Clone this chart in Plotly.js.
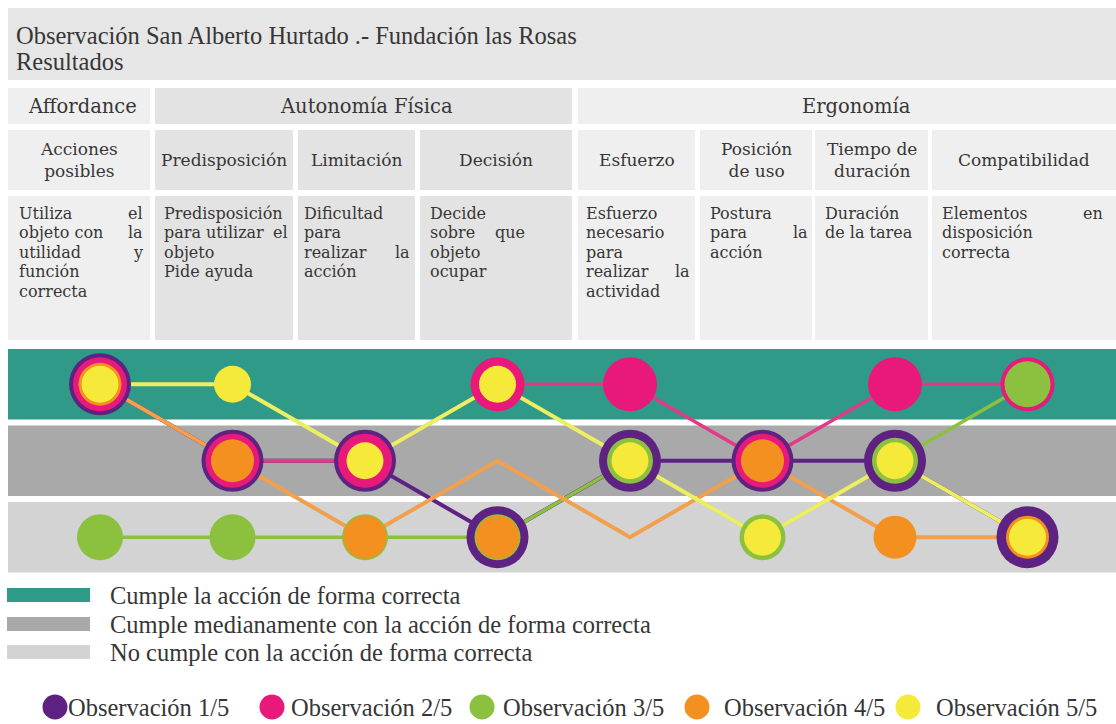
<!DOCTYPE html>
<html>
<head>
<meta charset="utf-8">
<script src="https://cdn.plot.ly/plotly-3.0.1.min.js"></script>
<style>
  html, body { margin: 0; padding: 0; background: #fff; }
  #chart { width: 1116px; height: 724px; }
</style>
</head>
<body>
<div id="chart"></div>
<script>
/* ── Data ───────────────────────────────────────────────── */
const criterios = ['Acciones posibles', 'Predisposición', 'Limitación', 'Decisión',
                   'Esfuerzo', 'Posición de uso', 'Tiempo de duración', 'Compatibilidad'];

// level: 3 = cumple, 2 = cumple medianamente, 1 = no cumple
const obs1 = [3, 2, 2, 1, 2, 2, 2, 1];
const obs2 = [3, 2, 2, 3, 3, 2, 3, 3];
const obs3 = [1, 1, 1, 1, 2, 1, 2, 3];
const obs4 = [3, 2, 1, 2, 1, 2, 1, 1];            // path of the line
const obs4Marcas = [3, 2, 1, 1, null, 2, 1, 1];   // circles actually drawn
const obs5 = [3, 3, 2, 3, 2, 1, 2, 1];

const titulo = ['Observación San Alberto Hurtado .- Fundación las Rosas', 'Resultados'];
const grupos = ['Affordance', 'Autonomía Física', 'Ergonomía'];
const subtitulos = ['Acciones<br>posibles', 'Predisposición', 'Limitación', 'Decisión',
                    'Esfuerzo', 'Posición<br>de uso', 'Tiempo de<br>duración', 'Compatibilidad'];
const descripciones = [
  ['Utiliza el', 'objeto con la', 'utilidad y', 'función', 'correcta'],
  ['Predisposición', 'para utilizar el', 'objeto', 'Pide ayuda'],
  ['Dificultad', 'para', 'realizar la', 'acción'],
  ['Decide', 'sobre que', 'objeto', 'ocupar'],
  ['Esfuerzo', 'necesario', 'para', 'realizar la', 'actividad'],
  ['Postura', 'para la', 'acción'],
  ['Duración', 'de la tarea'],
  ['Elementos en', 'disposición', 'correcta'],
];
const niveles = [3, 2, 1];
const nivelesTexto = ['Cumple la acción de forma correcta',
                      'Cumple medianamente con la acción de forma correcta',
                      'No cumple con la acción de forma correcta'];

/* ── Layout constants (pixels) ─────────────────────────── */
const W = 1116, H = 724;
const PLOT_TOP = 346, PLOT_BOT = 577;
const px = x => x / W;
const py = y => (PLOT_BOT - y) / (PLOT_BOT - PLOT_TOP);

const SERIF = 'Liberation Serif, Times New Roman, serif';
const SLAB  = 'DejaVu Serif, serif';
const INK   = '#363636';

const LIGHT = '#f0efef', DARK = '#e4e3e3';
const BAND_COLORS = { 3: '#2f9a88', 2: '#a9a9a9', 1: '#d3d3d3' };

const GROUP_CELLS = [[8, 150, LIGHT], [155, 572, DARK], [578, 1116, LIGHT]];
const GROUP_TEXT_X = [82, 366, 856];
const COLS = [[8, 150], [155, 293], [298, 415], [420, 572], [578, 695], [700, 812], [815, 928], [932, 1116]];
const COL_FILL = [LIGHT, DARK, DARK, DARK, LIGHT, LIGHT, LIGHT, LIGHT];
const DESC_BOX = [[17, 145], [162, 290], [302, 412], [428, 527], [584, 692], [708, 810], [823, 925], [940, 1105]];

const SERIES = [
  { name: 'Observación 1/5', y: obs1, marks: obs1,       color: '#5e2382', line: '#5e2382', size: 62, width: 4 },
  { name: 'Observación 2/5', y: obs2, marks: obs2,       color: '#e8197b', line: '#e33a88', size: 54, width: 3.5 },
  { name: 'Observación 3/5', y: obs3, marks: obs3,       color: '#8cc140', line: '#8cc140', size: 46, width: 3.5 },
  { name: 'Observación 4/5', y: obs4, marks: obs4Marcas, color: '#f39020', line: '#f2a04c', size: 43, width: 4 },
  { name: 'Observación 5/5', y: obs5, marks: obs5,       color: '#f5e93a', line: '#ecef62', size: 37, width: 4 },
];
const LEGEND_CX = [55, 272, 482, 697, 908];
const LEGEND_TX = [66, 289, 501, 722, 934];
const BAND_LEGEND_Y = [595, 624, 652];

/* ── Helpers ───────────────────────────────────────────── */
function rect(x0, y0, x1, y1, fill) {
  return { type: 'rect', xref: 'paper', yref: 'paper', layer: 'below',
           x0: px(x0), x1: px(x1), y0: py(y1), y1: py(y0),
           fillcolor: fill, line: { width: 0 } };
}
function txt(x, y, text, o = {}) {
  return { xref: 'paper', yref: 'paper', x: px(x), y: py(y), text, showarrow: false,
           xanchor: o.xanchor || 'left', yanchor: o.yanchor || 'middle', align: o.align || 'left',
           font: { family: o.family || SERIF, size: o.size || 21, color: o.color || INK } };
}

/* ── Shapes & annotations ──────────────────────────────── */
const shapes = [];
const annotations = [];

// title box
shapes.push(rect(8, 8, 1116, 80, '#e7e6e6'));
titulo.forEach((t, i) => annotations.push(txt(14, 35 + i * 26, t, { size: 24.5 })));

// group header row
GROUP_CELLS.forEach(([a, b, f], i) => {
  shapes.push(rect(a, 88, b, 124, f));
  annotations.push(txt(GROUP_TEXT_X[i], 106, grupos[i], { family: SLAB, size: 19.5, xanchor: 'center' }));
});

// sub-header row + description row
COLS.forEach(([a, b], i) => {
  shapes.push(rect(a, 130, b, 190, COL_FILL[i]));
  shapes.push(rect(a, 196, b, 340, COL_FILL[i]));
  annotations.push(txt((a + b) / 2, 160, subtitulos[i],
    { family: SLAB, size: 17, xanchor: 'center', align: 'center' }));

  // description text, justified like the original except on the last line
  const [l, r] = DESC_BOX[i];
  const lines = descripciones[i];
  lines.forEach((ln, k) => {
    const y = 213 + k * 19.5;
    const words = ln.split(' ');
    const justify = k < lines.length - 1 && words.length > 1;
    if (justify) {
      annotations.push(txt(l, y, words.slice(0, -1).join(' '), { family: SLAB, size: 16 }));
      annotations.push(txt(r, y, words[words.length - 1], { family: SLAB, size: 16, xanchor: 'right' }));
    } else {
      annotations.push(txt(l, y, ln, { family: SLAB, size: 16 }));
    }
  });
});

// level bands behind the chart
niveles.forEach(lv => {
  shapes.push({ type: 'rect', xref: 'paper', yref: 'y', layer: 'below',
                x0: px(8), x1: 1, y0: lv - 0.46, y1: lv + 0.46,
                fillcolor: BAND_COLORS[lv], line: { width: 0 } });
});

// band legend
niveles.forEach((lv, i) => {
  const yc = BAND_LEGEND_Y[i];
  shapes.push(rect(7, yc - 7, 90, yc + 7, BAND_COLORS[lv]));
  annotations.push(txt(108, yc, nivelesTexto[i], { size: 24.5 }));
});

// observation legend
SERIES.forEach((s, i) => {
  const cx = LEGEND_CX[i], cy = 707, r = 12.5;
  shapes.push({ type: 'circle', xref: 'paper', yref: 'paper',
                x0: px(cx - r), x1: px(cx + r), y0: py(cy + r), y1: py(cy - r),
                fillcolor: s.color, line: { width: 0 } });
  annotations.push(txt(LEGEND_TX[i], cy, s.name, { size: 24.5 }));
});

/* ── Traces: all lines first, then circles on top ──────── */
const lineTraces = SERIES.map(s => ({
  x: criterios, y: s.y, type: 'scatter', mode: 'lines', name: s.name,
  showlegend: false, hoverinfo: 'skip',
  line: { color: s.line, width: s.width },
}));
const markerTraces = SERIES.map(s => ({
  x: criterios, y: s.marks, type: 'scatter', mode: 'markers', name: s.name,
  showlegend: false, cliponaxis: false,
  marker: { color: s.color, size: s.size, line: { width: 0 } },
}));

const layout = {
  width: W, height: H,
  paper_bgcolor: '#ffffff', plot_bgcolor: 'rgba(0,0,0,0)',
  margin: { l: 0, r: 0, t: PLOT_TOP, b: H - PLOT_BOT },
  showlegend: false,
  xaxis: { type: 'category', categoryarray: criterios, range: [-0.7547, 7.6679],
           visible: false, fixedrange: true },
  yaxis: { range: [0.48, 3.5], visible: false, fixedrange: true },
  shapes, annotations,
};

Plotly.newPlot('chart', [...lineTraces, ...markerTraces], layout,
               { displayModeBar: false, staticPlot: true });
</script>
</body>
</html>
